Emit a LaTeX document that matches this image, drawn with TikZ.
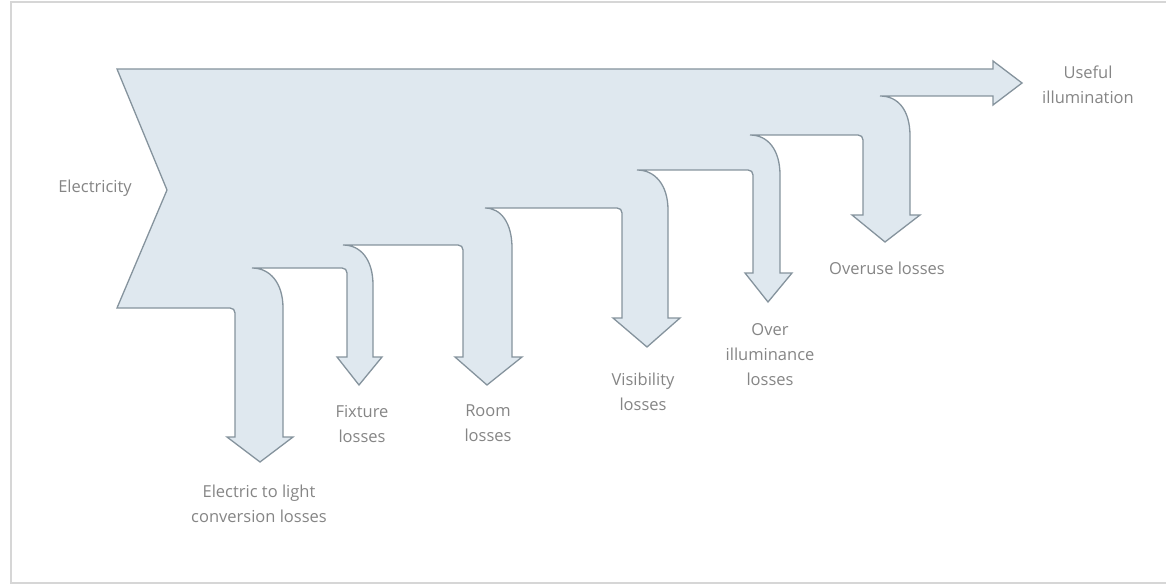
\documentclass[tikz,border=0pt]{standalone}
\usepackage{fontspec}
\setmainfont{Open Sans}
\definecolor{flowfill}{HTML}{DFE8EF}
\definecolor{flowedge}{HTML}{85939D}
\definecolor{txtgray}{HTML}{858585}
\definecolor{framegray}{HTML}{D6D6D6}
\begin{document}
\begin{tikzpicture}[x=1pt,y=-1pt,
  flow/.style={fill=flowfill, draw=flowedge, line width=1.3pt, line join=miter},
  lbl/.style={text=txtgray, align=center, inner sep=0pt, font=\fontsize{16.5}{25}\selectfont}]
\useasboundingbox (0,0) rectangle (1166,585);
\draw[framegray, line width=1.6pt] (1166,2) -- (11,2) -- (11,583) -- (1166,583);
\filldraw[flow] (117,69)
 -- (993,69) -- (993,61) -- (1022,83) -- (993,105) -- (993,96)
 -- (880,96) .. controls (898,96) and (910,110) .. (910,136)
 -- (910,215) -- (920,215) -- (885,242) -- (852,215) -- (863,215)
 -- (863,140) .. controls (863,137) and (861,135) .. (858,135)
 -- (750,135) .. controls (768,135) and (780,150) .. (780,175)
 -- (780,273) -- (792,273) -- (768,302) -- (745,273) -- (753,273)
 -- (753,175) .. controls (753,172) and (751,170) .. (748,170)
 -- (637,170) .. controls (655,170) and (668,185) .. (668,210)
 -- (668,318) -- (680,318) -- (647,347) -- (613,318) -- (622,318)
 -- (622,213) .. controls (622,210) and (620,208) .. (617,208)
 -- (485,208) .. controls (501,208) and (512,223) .. (512,248)
 -- (512,357) -- (522,357) -- (487,385) -- (455,357) -- (463,357)
 -- (463,250) .. controls (463,247) and (461,245) .. (458,245)
 -- (343,245) .. controls (361,245) and (373,260) .. (373,285)
 -- (373,357) -- (382,357) -- (359,385) -- (337,357) -- (347,357)
 -- (347,273) .. controls (347,270) and (345,268) .. (342,268)
 -- (252,268) .. controls (270,268) and (283,283) .. (283,308)
 -- (283,437) -- (293,437) -- (260,462) -- (227,437) -- (235,437)
 -- (235,313) .. controls (235,310) and (233,308) .. (230,308)
 -- (117,308) -- (167,190) -- cycle;
\node[lbl] (elec) at (95,188) {Electricity};
\node[lbl] (conv) at (259,504) {Electric to light\\conversion losses};
\node[lbl] (fix) at (362,424) {Fixture\\losses};
\node[lbl] (room) at (488,423) {Room\\losses};
\node[lbl] (vis) at (643,392) {Visibility\\losses};
\node[lbl] (over) at (770,355) {Over\\illuminance\\losses};
\node[lbl] (overuse) at (887,268) {Overuse losses};
\node[lbl] (useful) at (1088,85) {Useful\\illumination};
\end{tikzpicture}
\end{document}
